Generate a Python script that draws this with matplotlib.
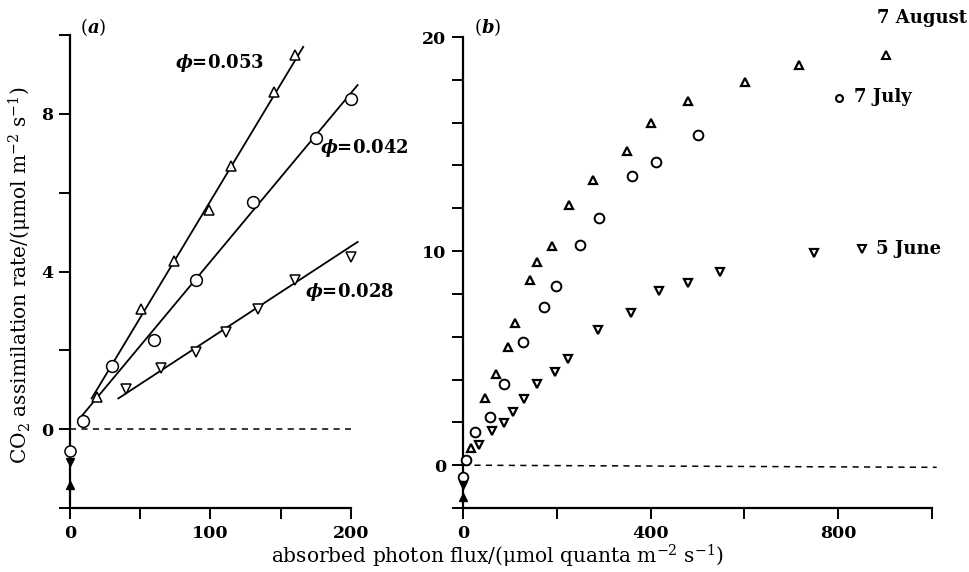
import matplotlib
matplotlib.use("Agg")
import matplotlib.pyplot as plt

# ---- panel (a): low-light region with fitted lines ----
a_aug_x = [19, 50.5, 74, 99, 114.5, 145, 160]
a_aug_y = [0.82, 3.05, 4.27, 5.57, 6.68, 8.56, 9.49]
a_jul_x = [9.5, 30, 59.5, 90, 130, 175, 200]
a_jul_y = [0.21, 1.59, 2.27, 3.78, 5.76, 7.39, 8.37]
a_jun_x = [40, 64.7, 89.6, 110.7, 133.9, 160, 200]
a_jun_y = [1.01, 1.56, 1.97, 2.46, 3.05, 3.78, 4.37]

# fitted lines (end points)
a_aug_line = ([15.4, 166], [0.78, 9.7])
a_jul_line = ([7.8, 204.7], [0.31, 8.73])
a_jun_line = ([34.4, 204.7], [0.78, 4.75])
a_phi = ["0.053", "0.042", "0.028"]
a_phi_pos = [(74.6, 9.29), (177.7, 7.13), (167, 3.48)]

# dark respiration (zero light)
a_dark = {"jul": -0.56, "jun": -0.84, "aug": -1.42}

# ---- panel (b): full light response ----
b_aug_x = [17.8, 47, 70.5, 97, 111.6, 143.5, 157.5, 190.7, 227, 276.7,
           349.5, 400, 479.7, 600.6, 716]
b_aug_y = [0.78, 3.12, 4.25, 5.5, 6.65, 8.66, 9.48, 10.25, 12.15, 13.31,
           14.67, 15.96, 17.0, 17.88, 18.68]
b_jul_x = [6.2, 26.4, 58, 87.6, 128, 172, 197.8, 249.5, 290, 361, 411.5, 502]
b_jul_y = [0.23, 1.56, 2.26, 3.77, 5.76, 7.4, 8.38, 10.3, 11.55, 13.5,
           14.15, 15.4]
b_jun_x = [35, 62, 88.4, 106, 130, 158, 197, 223, 287.5, 359, 418.5,
           480.5, 548, 749]
b_jun_y = [0.93, 1.59, 1.98, 2.48, 3.07, 3.79, 4.36, 4.94, 6.31, 7.13,
           8.13, 8.49, 9.02, 9.92]
b_dark = {"jul": -0.55, "jun": -0.93, "aug": -1.48}

# key labels: (marker, marker x, marker y, text x, text y)
b_keys = {
    "7 August": ("^", 902, 19.14, 883, 20.9),
    "7 July": ("o", 801, 17.15, 834, 17.2),
    "5 June": ("v", 851, 10.1, 880, 10.1),
}

plt.rcParams["font.family"] = ["DejaVu Serif"]
plt.rcParams["mathtext.fontset"] = "custom"
plt.rcParams["mathtext.rm"] = "DejaVu Serif"
plt.rcParams["mathtext.it"] = "DejaVu Serif:italic:bold"
plt.rcParams["mathtext.bf"] = "DejaVu Serif:bold"

fig = plt.figure(figsize=(9.69, 5.72), dpi=100)
ax_a = fig.add_axes([70 / 969, 1 - 508 / 572, 281 / 969, 473 / 572])
ax_b = fig.add_axes([463 / 969, 1 - 508 / 572, 469 / 969, 471 / 572])

for ax in (ax_a, ax_b):
    for s in ("top", "right"):
        ax.spines[s].set_visible(False)
    for s in ("left", "bottom"):
        ax.spines[s].set_linewidth(1.6)
    ax.tick_params(direction="out", length=8, width=1.4, pad=4,
                   labelsize=12.5)

open_kw = dict(linestyle="none", mfc="white", mec="black", clip_on=False,
               zorder=4)

# ---- (a) ----
ax_a.set_xlim(0, 200)
ax_a.set_ylim(-2, 10)
ax_a.set_xticks(range(0, 201, 50))
ax_a.set_xticklabels(["0", "", "100", "", "200"], fontweight="bold")
ax_a.set_yticks(range(-2, 11, 2))
ax_a.set_yticklabels(["", "0", "", "4", "", "8", ""], fontweight="bold")

for lx, ly in (a_aug_line, a_jul_line, a_jun_line):
    ax_a.plot(lx, ly, color="black", lw=1.3, clip_on=False, zorder=3)
ax_a.plot([0, 200], [0, 0], color="black", lw=1.1, ls=(0, (4, 3.5)),
          clip_on=False)
ax_a.plot(a_aug_x, a_aug_y, marker="^", ms=7, mew=1.1, **open_kw)
ax_a.plot(a_jul_x, a_jul_y, marker="o", ms=8.5, mew=1.1, **open_kw)
ax_a.plot(a_jun_x, a_jun_y, marker="v", ms=7, mew=1.1, **open_kw)
for txt, (px, py) in zip(a_phi, a_phi_pos):
    ax_a.text(px, py, r"$\phi$=" + txt, fontsize=13, fontweight="bold",
              va="center", ha="left")

ax_a.plot([0], [a_dark["jul"]], marker="o", ms=8, mew=1.1, **open_kw)
ax_a.plot([0], [a_dark["jun"]], marker="v", ms=6, color="black",
          linestyle="none", clip_on=False, zorder=5)
ax_a.plot([0], [a_dark["aug"]], marker="^", ms=6, color="black",
          linestyle="none", clip_on=False, zorder=5)

# ---- (b) ----
ax_b.set_xlim(0, 1000)
ax_b.set_ylim(-2, 20)
ax_b.set_xticks(range(0, 1001, 200))
ax_b.set_xticklabels(["0", "", "400", "", "800", ""], fontweight="bold")
ax_b.set_yticks(range(-2, 21, 2))
ax_b.set_yticklabels(["", "0", "", "", "", "", "10", "", "", "", "", "20"],
                     fontweight="bold")

ax_b.plot([0, 1010], [0, -0.1], color="black", lw=1.1, ls=(0, (4, 3.5)),
          clip_on=False)
ax_b.plot(b_aug_x, b_aug_y, marker="^", ms=5.5, mew=1.6, **open_kw)
ax_b.plot(b_jul_x, b_jul_y, marker="o", ms=7, mew=1.4, **open_kw)
ax_b.plot(b_jun_x, b_jun_y, marker="v", ms=5.5, mew=1.6, **open_kw)

for label, (mk, mx, my, tx, ty) in b_keys.items():
    ms = 5 if mk == "o" else 5.5
    ax_b.plot([mx], [my], marker=mk, ms=ms, mew=1.5, **open_kw)
    ax_b.text(tx, ty, label, fontsize=13, fontweight="bold", va="center",
              ha="left", clip_on=False)

ax_b.plot([0], [b_dark["jul"]], marker="o", ms=7, mew=1.3, **open_kw)
ax_b.plot([0], [b_dark["jun"]], marker="v", ms=5.5, color="black",
          linestyle="none", clip_on=False, zorder=5)
ax_b.plot([0], [b_dark["aug"]], marker="^", ms=5.5, color="black",
          linestyle="none", clip_on=False, zorder=5)

# panel letters and axis titles
fig.text(80 / 969, 1 - 27 / 572, "($a$)", fontsize=13, va="center")
fig.text(474 / 969, 1 - 27 / 572, "($b$)", fontsize=13, va="center")
fig.text(20 / 969, 1 - 275 / 572,
         r"CO$_2$ assimilation rate/(μmol m$^{-2}$ s$^{-1}$)",
         rotation=90, fontsize=14.5, va="center", ha="center")
fig.text(497 / 969, 1 - 556 / 572,
         r"absorbed photon flux/(μmol quanta m$^{-2}$ s$^{-1}$)",
         fontsize=14.5, va="center", ha="center")

fig.savefig("out.png", dpi=100)
